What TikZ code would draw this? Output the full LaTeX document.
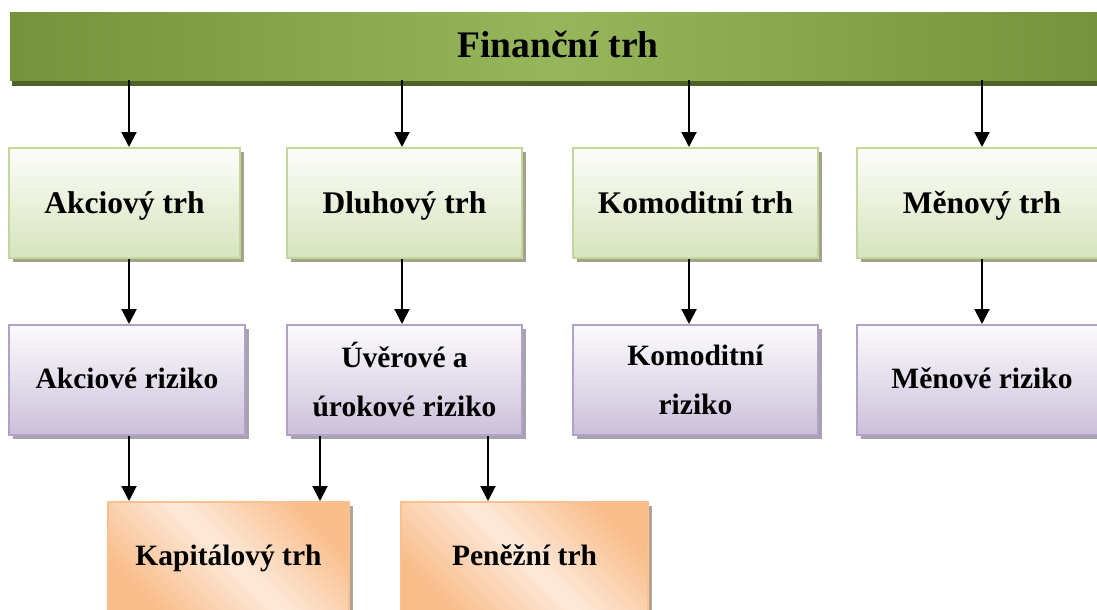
\documentclass[tikz,border=0pt]{standalone}
\usepackage{fontspec}
\setmainfont{Liberation Serif}
\usetikzlibrary{arrows.meta,shadows}
\definecolor{barside}{HTML}{76923C}
\definecolor{barmid}{HTML}{97B65B}
\definecolor{barshadow}{HTML}{4F6228}
\definecolor{grtop}{HTML}{FCFDFA}
\definecolor{grbot}{HTML}{D7E4BD}
\definecolor{grline}{HTML}{C3D69B}
\definecolor{grshadow}{HTML}{A3A38C}
\definecolor{putop}{HTML}{FCFBFD}
\definecolor{pubot}{HTML}{CCC0DA}
\definecolor{puline}{HTML}{B3A2C7}
\definecolor{pushadow}{HTML}{A7A2AE}
\definecolor{ordark}{HTML}{F9BD8A}
\definecolor{orlight}{HTML}{FDEADB}
\definecolor{orline}{HTML}{FAC090}
\definecolor{orshadow}{HTML}{B0A496}
\tikzset{
  titlebar/.style={rectangle, inner sep=0pt, minimum width=1090pt, minimum height=67pt,
    text height=26pt, text depth=5pt,
    left color=barside, right color=barside, middle color=barmid,
    drop shadow={shadow xshift=2pt, shadow yshift=-6pt, fill=barshadow, opacity=1},
    font=\fontsize{37.5}{40}\selectfont\bfseries},
  gbox/.style={rectangle, inner sep=0pt, minimum height=110pt, draw=grline, line width=2pt,
    text height=24pt, text depth=4pt,
    top color=grtop, bottom color=grbot,
    drop shadow={shadow xshift=3.5pt, shadow yshift=-3.5pt, fill=grshadow, opacity=1},
    font=\fontsize{31.5}{40}\selectfont\bfseries},
  pbox/.style={rectangle, inner sep=0pt, minimum height=110pt, draw=puline, line width=2pt,
    top color=putop, bottom color=pubot, align=center,
    drop shadow={shadow xshift=3.5pt, shadow yshift=-3.5pt, fill=pushadow, opacity=1},
    font=\fontsize{29.5}{49}\selectfont\bfseries},
  pone/.style={pbox, text height=22pt, text depth=6pt},
  obox/.style={rectangle, inner sep=0pt, minimum height=110pt, draw=orline, line width=2pt,
    text height=22pt, text depth=6pt,
    top color=ordark, bottom color=ordark, middle color=orlight, shading angle=-45,
    drop shadow={shadow xshift=3.5pt, shadow yshift=-3.5pt, fill=orshadow, opacity=1},
    font=\fontsize{29.5}{40}\selectfont\bfseries},
  arr/.style={line width=2pt, -{Triangle[width=15pt,length=15pt]}}
}
\begin{document}
\begin{tikzpicture}[x=1pt,y=-1pt]
\useasboundingbox (0,0) rectangle (1097,610);
\clip (0,0) rectangle (1097,610);
\node[titlebar] (top) at (555,46.5) {\hspace*{6pt}Finanční trh};
% green
\node[gbox, minimum width=231pt] (g1) at (124.5,203) {Akciový trh};
\node[gbox, minimum width=235pt] (g2) at (404.5,203) {Dluhový trh};
\node[gbox, minimum width=245pt] (g3) at (695.5,203) {Komoditní trh};
\node[gbox, minimum width=250pt] (g4) at (982,203) {Měnový trh};
% purple
\node[pone, minimum width=236pt] (p1) at (127,380) {Akciové riziko};
\node[pbox, minimum width=235pt] (p2) at (404.5,380) {Úvěrové a\\úrokové riziko};
\node[pbox, minimum width=245pt] (p3) at (695.5,380) {Komoditní\\riziko};
\node[pone, minimum width=250pt] (p4) at (982,380) {Měnové riziko};
% orange
\node[obox, minimum width=241pt] (o1) at (228.5,557) {Kapitálový trh};
\node[obox, minimum width=247pt] (o2) at (524.5,557) {Peněžní trh};
% arrow columns
\coordinate (c1) at (129,0);
\coordinate (c2) at (402,0);
\coordinate (c3) at (689,0);
\coordinate (c4) at (982,0);
\coordinate (c5) at (320,0);
\coordinate (c6) at (488,0);
\draw[arr] (top.south -| c1) -- (g1.north -| c1);
\draw[arr] (top.south -| c2) -- (g2.north -| c2);
\draw[arr] (top.south -| c3) -- (g3.north -| c3);
\draw[arr] (top.south -| c4) -- (g4.north -| c4);
\draw[arr] (g1.south -| c1) -- (p1.north -| c1);
\draw[arr] (g2.south -| c2) -- (p2.north -| c2);
\draw[arr] (g3.south -| c3) -- (p3.north -| c3);
\draw[arr] (g4.south -| c4) -- (p4.north -| c4);
\draw[arr] (p1.south -| c1) -- (o1.north -| c1);
\draw[arr] (p2.south -| c5) -- (o1.north -| c5);
\draw[arr] (p2.south -| c6) -- (o2.north -| c6);
\end{tikzpicture}
\end{document}
